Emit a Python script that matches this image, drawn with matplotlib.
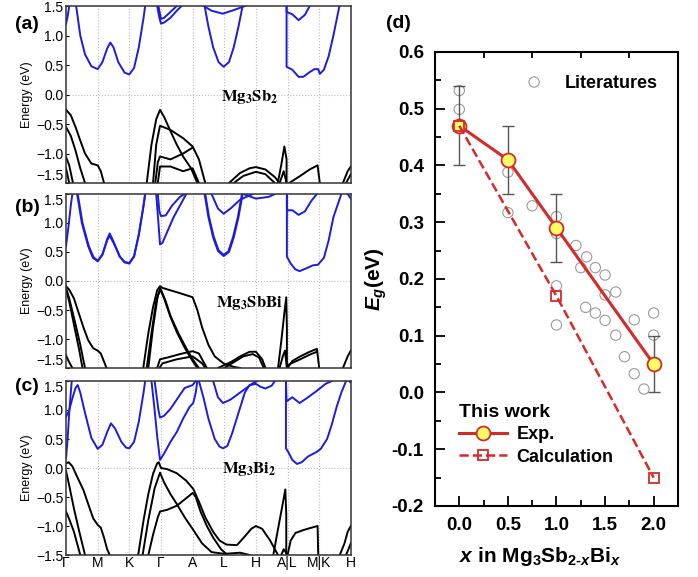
import matplotlib
matplotlib.use("Agg")
import matplotlib.pyplot as plt
from matplotlib.lines import Line2D

plt.rcParams['font.family'] = ['Liberation Sans', 'DejaVu Sans']
plt.rcParams['mathtext.fontset'] = 'custom'
plt.rcParams['mathtext.rm'] = 'Liberation Sans:bold'
plt.rcParams['mathtext.it'] = 'Liberation Sans:bold:italic'
plt.rcParams['mathtext.bf'] = 'Liberation Sans:bold'

# k-path labels (positions 0..9)
kpath = ['Γ', 'M', 'K', 'Γ', 'A', 'L', 'H', 'A|L', 'M|K', 'H']
e_ticks = [-1.5, -1.0, -0.5, 0.0, 0.5, 1.0, 1.5]
e_ticklabels = ['−1.5', '−1.0', '−0.5', '0.0', '0.5', '1.0', '1.5']

# ---- (a) Mg3Sb2 bands, (k, E) pairs
a_cond = [
    [(0, 1.2), (0.05, 1.32), (0.1, 1.5)],
    [(0.32, 1.5), (0.45, 1.0), (0.6, 0.68), (0.8, 0.48), (1.0, 0.43), (1.15, 0.55), (1.3, 0.78), (1.4, 0.88),
     (1.5, 0.8), (1.65, 0.55), (1.85, 0.37), (2.0, 0.34), (2.15, 0.45), (2.3, 0.8), (2.45, 1.3), (2.5, 1.5)],
    [(2.88, 1.5), (2.95, 1.3), (3.0, 1.2), (3.1, 1.22), (3.3, 1.3), (3.5, 1.42), (3.65, 1.5)],
    [(2.92, 1.5), (3.0, 1.28), (3.1, 1.3), (3.3, 1.4), (3.5, 1.5)],
    [(4.38, 1.5), (4.5, 1.15), (4.65, 0.8), (4.82, 0.55), (4.98, 0.47), (5.15, 0.55), (5.3, 0.8), (5.45, 1.15), (5.58, 1.5)],
    [(4.35, 1.5), (4.6, 1.42), (4.95, 1.37), (5.3, 1.43), (5.65, 1.5)],
    [(6.97, 1.5), (6.97, 0.47), (7.15, 0.42), (7.35, 0.3), (7.5, 0.3), (7.7, 0.38), (7.85, 0.43), (7.97, 0.43),
     (8.02, 0.35), (8.15, 0.42), (8.3, 0.65), (8.45, 1.0), (8.64, 1.5)],
    [(6.97, 1.5), (6.97, 1.4), (7.15, 1.36), (7.35, 1.26), (7.55, 1.35), (7.7, 1.5)],
]
a_val = [
    [(0, -0.26), (0.15, -0.35), (0.3, -0.55), (0.45, -0.78), (0.6, -1.0), (0.8, -1.17), (1.0, -1.2), (1.1, -1.3), (1.2, -1.5)],
    [(0, -0.55), (0.15, -0.7), (0.3, -0.95), (0.45, -1.25), (0.6, -1.5)],
    [(0, -1.06), (0.1, -1.2), (0.22, -1.5)],
    [(0, -1.25), (0.1, -1.5)],
    [(2.55, -1.5), (2.7, -0.85), (2.85, -0.42), (2.97, -0.26), (3.1, -0.38), (3.3, -0.62), (3.5, -0.85),
     (3.7, -1.05), (3.95, -1.25), (4.15, -1.5)],
    [(2.75, -1.5), (2.85, -0.85), (2.97, -0.53), (3.3, -0.6), (3.7, -0.74), (4.0, -0.88), (4.2, -1.1), (4.4, -1.5)],
    [(2.82, -1.5), (2.9, -1.15), (2.97, -1.05), (3.3, -1.1), (3.7, -1.0), (4.0, -0.9)],
    [(2.9, -1.5), (2.97, -1.22), (3.3, -1.22), (3.7, -1.3), (4.0, -1.25), (4.2, -1.5)],
    [(5.15, -1.5), (5.5, -1.33), (5.8, -1.25), (6.0, -1.23), (6.3, -1.27), (6.6, -1.4), (6.75, -1.5)],
    [(5.3, -1.5), (5.6, -1.38), (6.0, -1.31), (6.3, -1.35), (6.6, -1.5)],
    [(6.69, -1.5), (6.8, -1.2), (6.9, -0.88), (6.97, -1.1), (6.97, -1.5)],
    [(6.75, -1.5), (6.88, -1.3), (6.97, -1.5)],
    [(7.05, -1.5), (7.4, -1.38), (7.7, -1.27), (7.95, -1.2), (8.02, -1.5)],
    [(8.75, -1.5), (8.9, -1.3), (9.0, -1.22)],
    [(8.85, -1.5), (9.0, -1.35)],
]

# ---- (b) Mg3SbBi bands
b_cond = [
    [(0, 0.6), (0.08, 0.95), (0.15, 1.3), (0.2, 1.5)],
    [(0.35, 1.5), (0.5, 1.0), (0.7, 0.6), (0.85, 0.4), (1.0, 0.34), (1.15, 0.45), (1.3, 0.72), (1.38, 0.82),
     (1.5, 0.68), (1.7, 0.42), (1.85, 0.32), (2.0, 0.3), (2.15, 0.42), (2.3, 0.8), (2.45, 1.3), (2.5, 1.5)],
    [(0.37, 1.5), (0.52, 1.0), (0.72, 0.6), (0.87, 0.41), (1.0, 0.35), (1.15, 0.46), (1.3, 0.7), (1.38, 0.78),
     (1.5, 0.66), (1.7, 0.42), (1.85, 0.33), (2.0, 0.31), (2.15, 0.43), (2.3, 0.8), (2.45, 1.3), (2.5, 1.5)],
    [(2.85, 1.5), (2.92, 1.0), (2.97, 0.63), (3.05, 0.66), (3.2, 0.85), (3.4, 1.1), (3.6, 1.3), (3.8, 1.5)],
    [(2.9, 1.5), (2.95, 1.2), (3.0, 1.12), (3.15, 1.13), (3.35, 1.3), (3.6, 1.45), (3.75, 1.5)],
    [(4.38, 1.5), (4.5, 1.1), (4.65, 0.75), (4.8, 0.52), (4.98, 0.43), (5.15, 0.5), (5.3, 0.75), (5.45, 1.1), (5.58, 1.5)],
    [(4.4, 1.5), (4.52, 1.1), (4.67, 0.76), (4.82, 0.53), (4.98, 0.45), (5.13, 0.51), (5.28, 0.76), (5.43, 1.1), (5.56, 1.5)],
    [(4.6, 1.5), (4.8, 1.25), (4.98, 1.16), (5.2, 1.25), (5.5, 1.4), (5.9, 1.5)],
    [(5.6, 1.5), (6.0, 1.42), (6.4, 1.45), (6.6, 1.5)],
    [(6.98, 1.5), (6.98, 0.42), (7.1, 0.3), (7.25, 0.2), (7.38, 0.17), (7.6, 0.22), (7.8, 0.27), (7.96, 0.28),
     (8.15, 0.4), (8.3, 0.7), (8.45, 1.1), (8.7, 1.5)],
    [(6.98, 1.5), (6.98, 1.22), (7.15, 1.22), (7.35, 1.14), (7.55, 1.2), (7.75, 1.38), (7.93, 1.5)],
    [(8.9, 1.5), (9.0, 1.42)],
]
b_val = [
    [(0, -0.09), (0.1, -0.15), (0.25, -0.3), (0.4, -0.55), (0.55, -0.8), (0.7, -1.02), (0.86, -1.16), (1.0, -1.2),
     (1.1, -1.25), (1.28, -1.5)],
    [(0, -0.12), (0.1, -0.3), (0.28, -0.7), (0.45, -1.1), (0.6, -1.5)],
    [(0, -0.14), (0.1, -0.35), (0.25, -0.75), (0.42, -1.2), (0.52, -1.5)],
    [(0, -1.28), (0.08, -1.38), (0.2, -1.5)],
    [(2.44, -1.5), (2.6, -0.9), (2.75, -0.45), (2.88, -0.16), (2.97, -0.09), (3.05, -0.12), (3.3, -0.16),
     (3.6, -0.21), (4.0, -0.28), (4.15, -0.5), (4.3, -0.8), (4.5, -1.1), (4.7, -1.3), (5.0, -1.43), (5.3, -1.48), (5.5, -1.5)],
    [(2.6, -1.5), (2.75, -0.8), (2.9, -0.25), (3.0, -0.15), (3.15, -0.35), (3.3, -0.6), (3.55, -0.9), (3.8, -1.16),
     (4.0, -1.35), (4.2, -1.5)],
    [(2.55, -1.5), (2.7, -0.9), (2.85, -0.35), (2.97, -0.13), (3.1, -0.3), (3.3, -0.62), (3.5, -0.88), (3.75, -1.15),
     (4.0, -1.38), (4.15, -1.5)],
    [(2.88, -1.5), (2.97, -1.35), (3.2, -1.32), (3.6, -1.26), (4.0, -1.21), (4.2, -1.25), (4.35, -1.4), (4.45, -1.5)],
    [(2.95, -1.5), (3.05, -1.42), (3.5, -1.35), (4.0, -1.3), (4.3, -1.42), (4.4, -1.5)],
    [(4.8, -1.5), (5.2, -1.4), (5.5, -1.3), (5.8, -1.22), (6.0, -1.22), (6.2, -1.35), (6.3, -1.5)],
    [(5.0, -1.5), (5.3, -1.4), (5.6, -1.3), (5.9, -1.26), (6.1, -1.32), (6.25, -1.5)],
    [(6.7, -1.5), (6.8, -1.05), (6.9, -0.55), (6.96, -0.28), (6.98, -0.8), (6.98, -1.5)],
    [(6.75, -1.5), (6.85, -1.3), (6.92, -1.2), (6.98, -1.5)],
    [(7.0, -1.5), (7.15, -1.38), (7.4, -1.3), (7.7, -1.22), (7.93, -1.17), (8.0, -1.5)],
    [(7.0, -1.45), (7.4, -1.35), (7.7, -1.27), (7.93, -1.22)],
    [(8.75, -1.5), (8.9, -1.3), (9.0, -1.2)],
]

# ---- (c) Mg3Bi2 bands
c_cond = [
    [(0, 0.17), (0.05, 0.5), (0.1, 0.95), (0.15, 1.3), (0.18, 1.5)],
    [(0, 0.88), (0.1, 1.0), (0.2, 1.2), (0.3, 1.38), (0.37, 1.43), (0.45, 1.3), (0.6, 0.95), (0.8, 0.52), (1.0, 0.33),
     (1.15, 0.4), (1.3, 0.62), (1.42, 0.77), (1.55, 0.68), (1.75, 0.45), (1.9, 0.35), (2.0, 0.34), (2.15, 0.45),
     (2.3, 0.8), (2.45, 1.3), (2.5, 1.5)],
    [(2.7, 1.5), (2.8, 1.0), (2.88, 0.55), (2.97, 0.14), (3.1, 0.25), (3.3, 0.45), (3.5, 0.62), (3.7, 0.85),
     (3.9, 1.05), (4.02, 1.12), (4.1, 1.3), (4.15, 1.5)],
    [(2.8, 1.5), (2.92, 1.0), (2.97, 0.87), (3.1, 0.9), (3.3, 1.02), (3.5, 1.18), (3.75, 1.38), (4.0, 1.43), (4.1, 1.5)],
    [(4.2, 1.5), (4.35, 1.2), (4.5, 0.85), (4.7, 0.5), (4.85, 0.37), (4.96, 0.34), (5.1, 0.38), (5.25, 0.6),
     (5.45, 0.95), (5.65, 1.3), (5.8, 1.43), (6.0, 1.45), (6.15, 1.4), (6.3, 1.37), (6.5, 1.42), (6.6, 1.5)],
    [(4.65, 1.5), (4.8, 1.22), (4.96, 1.12), (5.2, 1.18), (5.5, 1.3), (5.9, 1.46), (6.05, 1.5)],
    [(6.95, 1.5), (6.95, 0.34), (7.05, 0.25), (7.15, 0.14), (7.3, 0.07), (7.45, 0.1), (7.65, 0.2), (7.9, 0.27),
     (8.05, 0.33), (8.25, 0.5), (8.4, 0.75), (8.55, 1.05), (8.7, 1.3), (8.85, 1.5)],
    [(6.95, 1.5), (6.97, 1.15), (7.05, 1.18), (7.15, 1.22), (7.38, 1.12), (7.6, 1.2), (7.9, 1.32), (8.2, 1.45), (8.4, 1.5)],
    [(8.95, 1.5), (9.0, 1.47)],
]
c_val = [
    [(0, 0.08), (0.08, 0.1), (0.2, 0.03), (0.35, -0.15), (0.55, -0.38), (0.7, -0.62), (0.86, -0.87), (1.0, -0.98),
     (1.1, -1.03), (1.2, -1.2), (1.3, -1.4), (1.38, -1.5)],
    [(0, -0.05), (0.1, -0.3), (0.25, -0.7), (0.42, -1.1), (0.6, -1.5)],
    [(0, -0.75), (0.1, -0.88), (0.25, -1.1), (0.45, -1.5)],
    [(2.28, -1.5), (2.45, -0.9), (2.6, -0.45), (2.75, -0.1), (2.88, 0.08), (2.93, 0.1), (3.0, 0.0), (3.2, -0.02),
     (3.5, -0.09), (3.8, -0.22), (4.02, -0.36), (4.2, -0.58), (4.4, -0.85), (4.65, -1.1), (4.85, -1.25), (5.07, -1.32),
     (5.4, -1.33), (5.65, -1.18), (5.85, -1.05), (6.0, -1.0), (6.2, -1.05), (6.45, -1.25), (6.65, -1.45), (6.7, -1.5)],
    [(2.42, -1.5), (2.6, -0.9), (2.8, -0.35), (2.97, -0.08), (3.1, -0.25), (3.3, -0.45), (3.5, -0.62), (3.75, -0.85),
     (4.0, -1.05), (4.3, -1.3), (4.6, -1.45), (5.0, -1.48), (5.5, -1.46), (5.8, -1.5)],
    [(2.6, -1.5), (2.75, -1.15), (2.9, -0.85), (2.97, -0.75), (3.2, -0.72), (3.5, -0.65), (3.8, -0.52), (4.0, -0.43),
     (4.1, -0.5), (4.25, -0.75), (4.45, -1.0), (4.65, -1.2), (4.9, -1.4), (5.1, -1.5)],
    [(6.55, -1.5), (6.7, -1.05), (6.82, -0.7), (6.93, -0.37), (6.96, -0.8), (6.96, -1.5)],
    [(6.8, -1.5), (6.88, -1.4), (6.94, -1.45)],
    [(7.0, -1.5), (7.1, -1.25), (7.25, -1.12), (7.5, -1.07), (7.75, -1.03), (7.95, -1.0), (7.97, -1.5)],
    [(8.65, -1.5), (8.8, -1.3), (8.9, -1.1), (9.0, -1.0)],
    [(8.85, -1.5), (9.0, -1.3)],
]

# ---- (d) band gap vs x
exp_x = [0.0, 0.5, 1.0, 2.0]
exp_y = [0.47, 0.41, 0.29, 0.05]
exp_err = [0.07, 0.06, 0.06, 0.05]
calc_x = [0.0, 1.0, 2.0]
calc_y = [0.47, 0.17, -0.15]
lit_x = [0.0, 0.0, 0.0, 0.77, 0.5, 0.5, 0.75, 1.0, 1.0, 1.0, 1.0, 1.2, 1.31, 1.25, 1.4, 1.5, 1.61, 1.5,
         1.3, 1.4, 1.5, 1.61, 1.7, 1.8, 1.8, 1.9, 2.0, 2.0]
lit_y = [0.532, 0.499, 0.468, 0.547, 0.388, 0.317, 0.329, 0.31, 0.28, 0.188, 0.119, 0.259, 0.239, 0.22, 0.22,
         0.207, 0.177, 0.172, 0.15, 0.14, 0.127, 0.101, 0.063, 0.128, 0.033, 0.006, 0.14, 0.101]

fig = plt.figure(figsize=(6.98, 5.77), dpi=100)

blue = '#1c1ce0'
panels = [
    ([0.0946, 0.6828, 0.408, 0.3068], a_cond, a_val, r'$\mathbf{Mg_3Sb_2}$', -0.05, '(a)', 0.957),
    ([0.0946, 0.3622, 0.408, 0.3016], b_cond, b_val, r'$\mathbf{Mg_3SbBi}$', -0.38, '(b)', 0.641),
    ([0.0946, 0.0381, 0.408, 0.3016], c_cond, c_val, r'$\mathbf{Mg_3Bi_2}$', -0.02, '(c)', 0.331),
]
for i, (rect, cond, val, name, ny, tag, tagy) in enumerate(panels):
    ax = fig.add_axes(rect)
    for band in cond:
        ax.plot([p[0] for p in band], [p[1] for p in band], color=blue, lw=1.4)
    for band in val:
        ax.plot([p[0] for p in band], [p[1] for p in band], color='black', lw=1.4)
    ax.set_xlim(0, 9)
    ax.set_ylim(-1.5, 1.5)
    for k in range(1, 9):
        ax.axvline(k, color='#bbbbbb', ls=':', lw=0.8, zorder=0)
    ax.axhline(0, color='#bbbbbb', ls=':', lw=0.8, zorder=0)
    ax.set_yticks(e_ticks)
    labels = ax.set_yticklabels(e_ticklabels, fontsize=10)
    # keep the end labels of neighbouring panels apart
    if i < 2:
        labels[0].set_va('bottom')
    if i > 0:
        labels[-1].set_va('top')
    ax.set_xticks(range(10))
    if i == 2:
        ax.set_xticklabels(kpath, fontsize=10)
    else:
        ax.set_xticklabels([])
    ax.tick_params(axis='x', length=0, pad=1)
    ax.tick_params(axis='y', direction='in', length=2, pad=2)
    ax.set_ylabel('Energy (eV)', fontsize=9, labelpad=2)
    for s in ax.spines.values():
        s.set_linewidth(1.1)
        s.set_color('#333333')
    ax.text(5.8, ny, name, math_fontfamily='stix', fontsize=12, ha='center', va='center')
    fig.text(0.022, tagy, tag, fontsize=14, fontweight='bold', va='center', ha='left')

# ---- panel (d)
red = '#d42a2a'
ax = fig.add_axes([0.6232, 0.1231, 0.3481, 0.7868])
ax.scatter(lit_x, lit_y, s=55, facecolors='none', edgecolors='#9a9a9a', linewidths=0.8, zorder=2)
ax.errorbar(exp_x, exp_y, yerr=exp_err, fmt='none', ecolor='#555555', elinewidth=1, capsize=4, capthick=1, zorder=3)
ax.plot(exp_x, exp_y, '-o', color=red, lw=2.2, ms=10, mfc='#ffff66', mec=red, mew=1.3, zorder=4)
ax.plot(calc_x, calc_y, '--s', color=red, lw=1.8, ms=7.5, mfc='none', mec=red, mew=1.3, zorder=5)

ax.set_xlim(-0.25, 2.25)
ax.set_ylim(-0.2, 0.6)
ax.set_xticks([0.0, 0.5, 1.0, 1.5, 2.0])
ax.set_xticklabels(['0.0', '0.5', '1.0', '1.5', '2.0'], fontsize=13.5, fontweight='bold')
ax.set_xticks([-0.25, 0.25, 0.75, 1.25, 1.75, 2.25], minor=True)
ax.set_yticks([-0.2, -0.1, 0.0, 0.1, 0.2, 0.3, 0.4, 0.5, 0.6])
ax.set_yticklabels(['-0.2', '-0.1', '0.0', '0.1', '0.2', '0.3', '0.4', '0.5', '0.6'], fontsize=13.5, fontweight='bold')
ax.set_yticks([-0.15, -0.05, 0.05, 0.15, 0.25, 0.35, 0.45, 0.55], minor=True)
ax.tick_params(axis='x', which='major', direction='in', length=7, width=1.3, pad=8)
ax.tick_params(axis='x', which='minor', direction='in', length=4, width=1.3, top=True, bottom=True)
ax.tick_params(axis='y', which='major', direction='in', length=7, width=1.3, pad=8)
ax.tick_params(axis='y', which='minor', direction='in', length=4, width=1.3)
for s in ax.spines.values():
    s.set_linewidth(1.5)

ax.set_xlabel(r'$x$ in Mg$_3$Sb$_{2\text{-}x}$Bi$_x$', fontsize=15, fontweight='bold', labelpad=4)
ax.xaxis.set_label_coords(0.43, -0.085)
ax.set_ylabel(r'$E_g$(eV)', fontsize=15, fontweight='bold', labelpad=2)
ax.text(1.08, 0.545, 'Literatures', fontsize=13, fontweight='bold', va='center', ha='left')

handles = [
    Line2D([], [], color=red, lw=2.2, marker='o', ms=10, mfc='#ffff66', mec=red, mew=1.3),
    Line2D([], [], color=red, lw=1.8, ls='--', marker='s', ms=7.5, mfc='none', mec=red, mew=1.3),
]
leg = ax.legend(handles, ['Exp.', 'Calculation'], loc='upper left', bbox_to_anchor=(0.06, 0.245),
                frameon=False, title='This work', alignment='left', handlelength=2.7,
                handletextpad=0.5, labelspacing=0.3, borderpad=0,
                prop={'size': 13, 'weight': 'bold'}, title_fontproperties={'size': 14, 'weight': 'bold'})

fig.text(0.553, 0.96, '(d)', fontsize=14, fontweight='bold', va='center', ha='left')

fig.savefig('out.png', dpi=100)
